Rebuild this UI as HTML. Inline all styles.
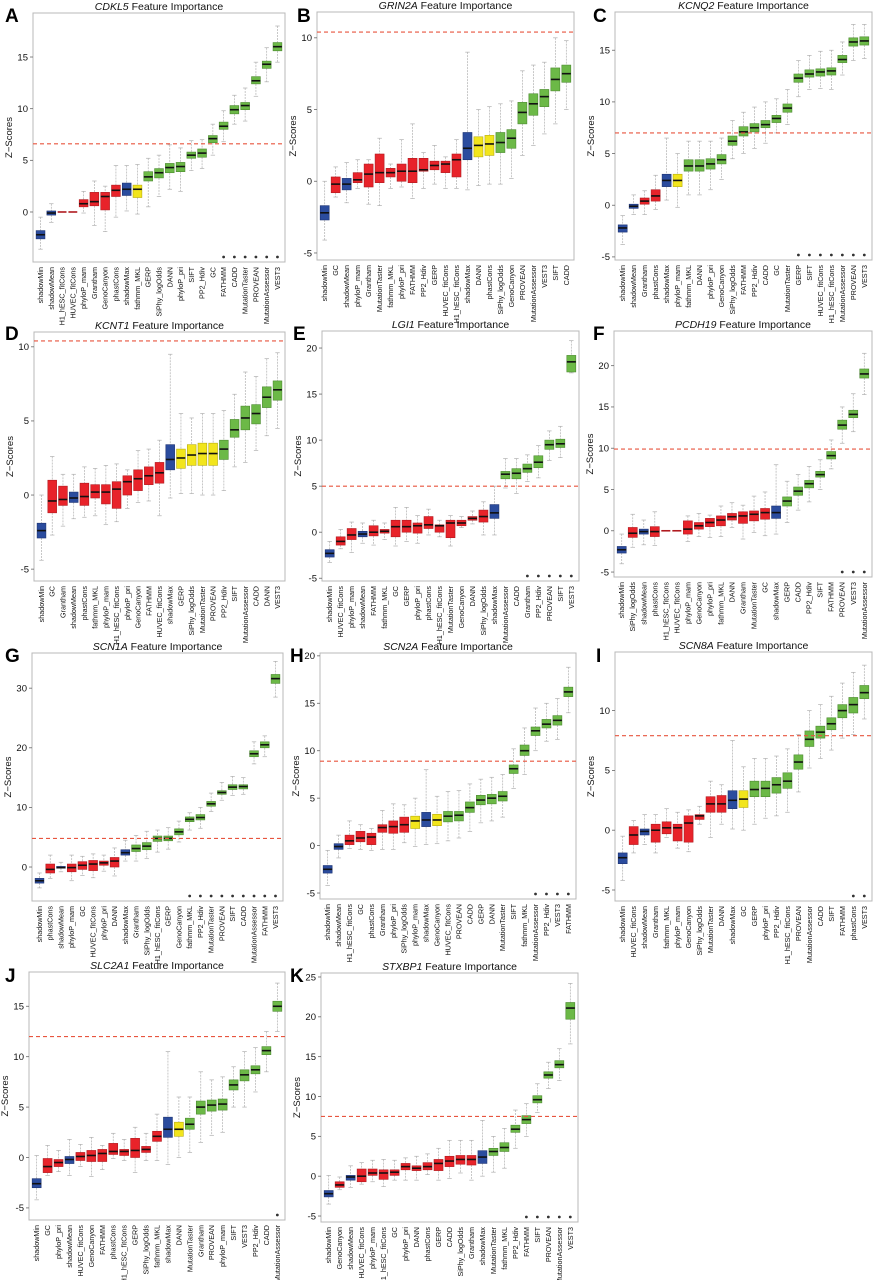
<!DOCTYPE html>
<html><head><meta charset="utf-8"><style>
html,body{margin:0;padding:0;background:#fff;}
svg{display:block;font-family:"Liberation Sans",Arial,sans-serif;}
</style></head><body>
<svg id="fig" width="875" height="1280" viewBox="0 0 875 1280" xmlns="http://www.w3.org/2000/svg"></svg>
<script>
// ---- Panel data (median, q1, q3, whisker low, whisker high), colors: B blue, R red, Y yellow, G green ----
const A_names=["shadowMin","shadowMean","H1_hESC_fitCons","HUVEC_fitCons","phyloP_mam","Grantham","GenoCanyon","phastCons","shadowMax","fathmm_MKL","GERP","SiPhy_logOdds","DANN","phyloP_pri","SIFT","PP2_Hdiv","GC","FATHMM","CADD","MutationTaster","PROVEAN","MutationAssessor","VEST3"];
const A_col="BBRRRRRRBYGGGGGGGGGGGGG";
const A_med=[-2.2,-0.1,0,0,0.8,1.0,1.5,2.1,2.2,2.2,3.4,3.8,4.3,4.4,5.5,5.7,7.1,8.3,9.9,10.3,12.7,14.3,16.0];
const A_q1=[-2.6,-0.3,0,0,0.5,0.6,0.2,1.5,1.6,1.4,3.0,3.3,3.8,3.9,5.2,5.3,6.7,8.0,9.5,9.9,12.4,13.9,15.6];
const A_q3=[-1.8,0.1,0,0,1.2,1.9,1.9,2.6,2.8,2.6,3.9,4.2,4.7,4.8,5.8,6.1,7.4,8.7,10.3,10.6,13.1,14.6,16.4];
const A_lo=[-3.6,-1,0,0,-0.1,-1.3,-1.9,-0.5,0.1,-0.2,0.5,1.5,2.2,2.0,4.0,4.2,5.5,6.8,8.5,8.8,11.2,12.6,14.5];
const A_hi=[-0.5,0.8,0,0,2,3,2.5,4.5,4.5,4.6,5.2,5.5,6.5,6.2,6.9,7.0,8.5,9.8,11.3,12,14.5,15.9,18];

const B_names=["shadowMin","GC","shadowMean","phyloP_mam","Grantham","MutationTaster","fathmm_MKL","phyloP_pri","FATHMM","PP2_Hdiv","GERP","HUVEC_fitCons","H1_hESC_fitCons","shadowMax","DANN","phastCons","SiPhy_logOdds","GenoCanyon","PROVEAN","MutationAssessor","VEST3","SIFT","CADD"];
const B_col="BRBRRRRRRRRRRBYYGGGGGGG";
const B_med=[-2.2,-0.2,-0.2,0.1,0.5,0.6,0.6,0.7,0.7,0.8,1.1,1.2,1.5,2.3,2.5,2.6,2.7,3.0,4.8,5.4,5.9,7.1,7.5];
const B_q1=[-2.7,-0.8,-0.6,-0.1,-0.4,-0.1,0.3,0,-0.1,0.7,0.8,0.6,0.3,1.5,1.7,1.8,2.0,2.3,4.0,4.6,5.2,6.3,6.9];
const B_q3=[-1.7,0.3,0.2,0.6,1.2,1.9,0.9,1.2,1.6,1.6,1.4,1.4,1.9,3.4,3.1,3.2,3.4,3.6,5.5,6.1,6.4,7.9,8.1];
const B_lo=[-4.1,-1.1,-1.5,-0.5,-1.6,-1.7,-0.5,-0.4,-1.2,-0.5,-0.2,-0.5,-0.5,-0.6,-0.3,-0.2,-0.2,0.2,1.8,2.5,3.3,4.0,5.0];
const B_hi=[0,1,1.3,1.5,1.5,3,1.2,2.9,4,2,2.5,1.7,2.9,9,5,5.2,5.4,5.6,7.7,8.1,8.3,10,9.8];

const C_names=["shadowMin","shadowMean","Grantham","phastCons","shadowMax","phyloP_mam","fathmm_MKL","DANN","phyloP_pri","GenoCanyon","SiPhy_logOdds","FATHMM","PP2_Hdiv","CADD","GC","MutationTaster","GERP","SIFT","HUVEC_fitCons","H1_hESC_fitCons","MutationAssessor","PROVEAN","VEST3"];
const C_col="BBRRBYGGGGGGGGGGGGGGGGG";
const C_med=[-2.2,-0.1,0.4,0.9,2.4,2.4,3.8,3.8,4.0,4.4,6.2,7.1,7.5,7.8,8.4,9.4,12.3,12.7,12.9,13.0,14.1,15.8,15.9];
const C_q1=[-2.6,-0.3,0.1,0.4,1.8,1.8,3.3,3.3,3.5,4.0,5.8,6.7,7.1,7.5,8.0,9.0,11.9,12.4,12.5,12.6,13.8,15.4,15.5];
const C_q3=[-1.9,0.1,0.7,1.5,3.0,3.0,4.4,4.4,4.5,4.9,6.7,7.6,7.9,8.2,8.7,9.8,12.7,13.1,13.2,13.3,14.5,16.2,16.3];
const C_lo=[-3.8,-0.9,-0.9,-0.4,0.5,-0.2,1,1,1.5,2.5,4.5,5,5.5,6,7,7.8,10.5,11.2,11.3,11.2,12.6,14,14.2];
const C_hi=[-1,1,1.4,2.9,6.5,5,6.2,6.2,6.2,6.5,8.2,9,9.5,10,10.3,11.2,14,14.5,14.9,15,15.8,17.5,17.5];

const D_names=["shadowMin","GC","Grantham","shadowMean","phastCons","fathmm_MKL","phyloP_mam","H1_hESC_fitCons","phyloP_pri","GenoCanyon","FATHMM","HUVEC_fitCons","shadowMax","GERP","SiPhy_logOdds","MutationTaster","PROVEAN","PP2_Hdiv","SIFT","MutationAssessor","CADD","DANN","VEST3"];
const D_col="BRRBRRRRRRRRBYYYYGGGGGG";
const D_med=[-2.4,-0.4,-0.3,-0.2,-0.1,0.2,0.2,0.4,0.9,1.1,1.3,1.5,2.4,2.5,2.7,2.8,2.8,3.1,4.4,5.2,5.5,6.6,7.1];
const D_q1=[-2.9,-1.2,-0.7,-0.5,-0.7,-0.2,-0.6,-0.9,0,0.3,0.7,0.8,1.7,1.8,2.0,2.0,2.0,2.4,3.9,4.4,4.8,5.9,6.4];
const D_q3=[-1.9,1.0,0.6,0.2,0.8,0.7,0.7,0.9,1.3,1.7,1.9,2.2,3.4,3.1,3.4,3.5,3.5,3.7,5.1,6.0,6.1,7.3,7.7];
const D_lo=[-4.4,-2.7,-2.1,-1.6,-1.5,-1.4,-2,-1.8,-0.9,-0.5,-0.4,-1.4,-0.2,0.1,0.1,0,0,0.3,1.9,2.2,3,4,4.5];
const D_hi=[0,2.6,1.4,1.4,1.9,1.8,2,2.1,1.7,3,3.1,3.7,9.5,5.5,5.2,5.5,5.5,5.7,6.8,8.3,8,9.2,9.6];

const E_names=["shadowMin","HUVEC_fitCons","phyloP_mam","shadowMean","FATHMM","fathmm_MKL","GC","GERP","phyloP_pri","phastCons","H1_hESC_fitCons","MutationTaster","GenoCanyon","DANN","SiPhy_logOdds","shadowMax","MutationAssessor","CADD","Grantham","PP2_Hdiv","PROVEAN","SIFT","VEST3"];
const E_col="BRRBRRRRRRRRRRRBGGGGGGG";
const E_med=[-2.3,-1,-0.3,-0.2,0,0.1,0.6,0.6,0.7,0.8,0.7,1,1,1.5,1.7,2.1,6.3,6.4,6.9,7.6,9.5,9.6,18.5];
const E_q1=[-2.7,-1.4,-0.8,-0.5,-0.4,-0.1,-0.5,0,-0.1,0.4,0,-0.6,0.7,1.3,1.1,1.5,5.8,5.8,6.5,7,9,9.2,17.4];
const E_q3=[-1.9,-0.5,0.4,0.1,0.7,0.3,1.3,1.3,1,1.7,0.8,1.3,1.3,1.7,2.4,3,6.6,6.9,7.4,8.3,10,10.1,19.2];
const E_lo=[-3.3,-1.8,-2.2,-1.2,-1.4,-0.8,-1.5,-1,-1.2,-0.3,-0.5,-1.5,0.5,0.9,-0.3,-0.3,4.8,4.2,5.5,5.9,7.8,8.1,17.3];
const E_hi=[-1,0.3,1.1,1,1.3,1,2.7,2.7,1.8,2.5,1.3,1.8,1.7,2.3,3.3,5,8,8,8.4,9.4,11,11.5,20.8];

const F_names=["shadowMin","SiPhy_logOdds","shadowMean","phastCons","H1_hESC_fitCons","HUVEC_fitCons","phyloP_mam","GenoCanyon","phyloP_pri","fathmm_MKL","DANN","Grantham","MutationTaster","GC","shadowMax","GERP","CADD","PP2_Hdiv","SIFT","FATHMM","PROVEAN","VEST3","MutationAssessor"];
const F_col="BRBRRRRRRRRRRRBGGGGGGGG";
const F_med=[-2.3,-0.3,-0.1,-0.1,0,0,0.2,0.6,1,1.3,1.7,1.8,2,2.2,2.2,3.6,4.8,5.7,6.8,9.1,12.8,14.1,19];
const F_q1=[-2.7,-0.8,-0.4,-0.7,0,0,-0.4,0.2,0.5,0.6,1.3,0.9,1.2,1.4,1.5,3,4.3,5.2,6.5,8.7,12.3,13.7,18.5];
const F_q3=[-1.9,0.4,0.2,0.5,0,0,1.2,1,1.5,1.8,2.1,2.3,2.4,2.7,3,4.1,5.3,6.1,7.2,9.6,13.4,14.6,19.6];
const F_lo=[-4,-2,-1.7,-1.8,0,0,-1.3,-0.7,-0.8,-0.7,0.4,-1,-0.2,-0.6,-0.4,1,2.5,3.5,5,7.5,10.6,12,16.5];
const F_hi=[-0.4,2,1.3,2.3,0,0,1.8,2.1,1.9,3,3.4,3.1,4.2,4.7,8,6,6.8,7.8,8.6,11,15,16.6,21.5];

const G_names=["shadowMin","phastCons","shadowMean","phyloP_mam","GC","HUVEC_fitCons","phyloP_pri","DANN","shadowMax","Grantham","SiPhy_logOdds","H1_hESC_fitCons","GERP","GenoCanyon","fathmm_MKL","PP2_Hdiv","MutationTaster","PROVEAN","SIFT","CADD","MutationAssessor","FATHMM","VEST3"];
const G_col="BRBRRRRRBGGGGGGGGGGGGGG";
const G_med=[-2.3,-0.4,-0.1,-0.1,0.3,0.5,0.7,1,2.4,3.1,3.5,4.8,4.8,5.9,8,8.3,10.6,12.5,13.4,13.5,19,20.5,31.6];
const G_q1=[-2.7,-1,-0.2,-0.8,-0.4,-0.6,0.3,0,2,2.6,2.9,4.3,4.4,5.4,7.6,7.9,10.2,12.2,13,13.1,18.5,20,30.8];
const G_q3=[-1.9,0.5,0.1,0.5,0.9,1.1,1,1.6,2.9,3.7,4.1,5.2,5.2,6.4,8.4,8.8,11,12.8,13.8,13.8,19.5,21,32.3];
const G_lo=[-3.5,-1.9,-0.8,-2.3,-1.4,-1.8,-0.7,-1.5,1,1,1.4,2.5,3,4.2,6.2,6.5,9.3,11.2,12,12.2,17.3,18.5,28.5];
const G_hi=[-1,2,0.8,2,1.8,2.2,2,3.2,4.5,5.3,6,6.2,6.6,7.7,9.1,10,12.4,14.2,15.2,15,21,22,34.5];

const H_names=["shadowMin","shadowMean","H1_hESC_fitCons","GC","phastCons","Grantham","phyloP_pri","SiPhy_logOdds","phyloP_mam","shadowMax","GenoCanyon","HUVEC_fitCons","PROVEAN","CADD","GERP","DANN","MutationTaster","SIFT","fathmm_MKL","MutationAssessor","PP2_Hdiv","VEST3","FATHMM"];
const H_col="BBRRRRRRYBYGGGGGGGGGGGG";
const H_med=[-2.5,-0.1,0.5,0.8,0.9,1.9,2,2.2,2.6,2.7,2.7,3.1,3.2,4,4.8,5,5.2,8.1,10,12.1,12.8,13.2,16.2];
const H_q1=[-2.9,-0.4,0.1,0.4,0.1,1.4,1.3,1.4,1.8,2,2.1,2.5,2.6,3.5,4.3,4.4,4.7,7.6,9.5,11.6,12.4,12.7,15.7];
const H_q3=[-2.1,0.2,1.1,1.5,1.3,2.2,2.6,3,3.1,3.5,3.3,3.6,3.6,4.6,5.3,5.4,5.7,8.5,10.6,12.5,13.3,13.7,16.7];
const H_lo=[-4.2,-1.3,-0.3,-0.4,-0.5,-0.4,-0.4,0.3,-0.1,0.1,0.2,0.5,0.8,1.5,2.4,2.6,3,6,7.5,10,11,11.2,14];
const H_hi=[-0.5,1.1,2.6,2.2,1.8,3.7,4.4,4.3,5,8,5.2,5.7,5.8,6.5,7,7.2,7.5,10.2,12.4,14.5,15,15.5,18.8];

const I_names=["shadowMin","HUVEC_fitCons","shadowMean","Grantham","fathmm_MKL","phyloP_mam","GenoCanyon","SiPhy_logOdds","MutationTaster","DANN","shadowMax","GC","GERP","phyloP_pri","PP2_Hdiv","H1_hESC_fitCons","PROVEAN","MutationAssessor","CADD","SIFT","FATHMM","phastCons","VEST3"];
const I_col="BRBRRRRRRRBYGGGGGGGGGGG";
const I_med=[-2.3,-0.4,-0.1,0,0.2,0.2,0.6,1.2,2.2,2.2,2.5,2.6,3.4,3.5,3.8,4.1,5.7,7.6,8.2,8.9,10,10.5,11.5];
const I_q1=[-2.8,-1.2,-0.4,-1,-0.3,-0.9,-1,0.9,1.5,1.5,1.8,1.9,2.8,2.8,3.1,3.5,5.1,7,7.7,8.4,9.4,9.8,11];
const I_q3=[-1.9,0.3,0.1,0.5,0.7,0.5,1.2,1.3,2.8,2.9,3.3,3.3,4.1,4.1,4.4,4.8,6.3,8.3,8.7,9.4,10.5,11.1,12.1];
const I_lo=[-4.2,-1.9,-1.2,-1.9,-0.6,-1.5,-1.8,0.5,-0.6,0.5,0.1,0,0.5,1,1.2,1.5,3.2,5.2,6,6.7,7.7,8,9.3];
const I_hi=[-0.5,0.8,1.3,1.3,1.8,1.5,1.7,2,4.1,3.8,7.5,5.3,6,6,6.2,6.8,8,10,10.5,11.2,12.3,13.2,13.8];

const J_names=["shadowMin","GC","phyloP_pri","shadowMean","HUVEC_fitCons","GenoCanyon","FATHMM","phastCons","H1_hESC_fitCons","GERP","SiPhy_logOdds","fathmm_MKL","shadowMax","DANN","MutationTaster","Grantham","PROVEAN","phyloP_mam","SIFT","VEST3","PP2_Hdiv","CADD","MutationAssessor"];
const J_col="BRRBRRRRRRRRBYGGGGGGGGG";
const J_med=[-2.6,-0.9,-0.5,-0.2,0.1,0.2,0.4,0.6,0.6,0.7,0.8,2.1,2.8,2.8,3.3,5,5.2,5.3,7.2,8.2,8.7,10.6,15];
const J_q1=[-3,-1.5,-0.9,-0.6,-0.3,-0.4,-0.4,0.3,0.2,0,0.5,1.6,2,2.1,2.8,4.3,4.6,4.7,6.7,7.6,8.3,10.2,14.5];
const J_q3=[-2.1,-0.1,-0.2,0.1,0.5,0.7,0.8,1.4,0.8,1.9,1.1,2.6,4,3.5,3.9,5.6,5.7,5.8,7.7,8.7,9.1,11,15.5];
const J_lo=[-4.2,-1.8,-1.4,-1.8,-0.9,-1.9,-1.2,-0.1,-0.3,-1.5,-0.3,-0.3,-0.7,0,0.5,1.5,2.2,2.5,5,5,6.5,8.5,12.5];
const J_hi=[0.2,1.2,0.7,1.8,1.3,2,1.2,2.4,1.8,3,2.4,4.3,10.5,6,6,8.5,7.7,8,9,10.5,10.9,12.5,17.3];

const K_names=["shadowMin","GenoCanyon","shadowMean","HUVEC_fitCons","phyloP_mam","H1_hESC_fitCons","GC","phyloP_pri","DANN","phastCons","GERP","CADD","SiPhy_logOdds","Grantham","shadowMax","MutationTaster","fathmm_MKL","PP2_Hdiv","FATHMM","SIFT","PROVEAN","MutationAssessor","VEST3"];
const K_col="BRBRRRRRRRRRRRBGGGGGGGG";
const K_med=[-2.2,-1.1,-0.1,0,0.4,0.4,0.5,1.2,1,1.2,1.6,1.9,2.1,2.1,2.4,3.1,3.6,5.9,7.1,9.6,12.7,14,21.1];
const K_q1=[-2.6,-1.4,-0.5,-0.7,0.1,-0.4,0.1,0.8,0.7,0.8,0.7,1.2,1.5,1.4,1.6,2.6,3.1,5.5,6.6,9.2,12.3,13.6,19.7];
const K_q3=[-1.8,-0.7,0.1,0.9,0.9,0.8,0.8,1.6,1.3,1.7,2.1,2.5,2.6,2.6,3.2,3.5,4.2,6.4,7.6,10.1,13.1,14.5,21.8];
const K_lo=[-3.5,-1.7,-1.4,-1,-0.7,-1.3,-0.5,-0.5,-0.5,0.2,-0.5,-0.3,0.4,-0.5,0,0.5,1,3.5,5,8,11,12,16.6];
const K_hi=[0.1,-0.1,1.3,1.7,2,2.1,2,2.3,2.5,2.8,3.5,4.5,4.5,4.5,7,5,6,8.3,9.1,11.6,14.3,16,24.2];

const genes=["CDKL5","GRIN2A","KCNQ2","KCNT1","LGI1","PCDH19","SCN1A","SCN2A","SCN8A","SLC2A1","STXBP1"];
const thresholds=[6.6,10.4,7.0,10.4,5.0,9.9,4.8,8.9,7.9,12.0,7.5];
const starCounts=[6,0,7,0,5,3,9,4,2,1,5];
const tickSets=[[0,5,10,15],[-5,0,5,10],[-5,0,5,10,15],[-5,0,5,10],[-5,0,5,10,15,20],[-5,0,5,10,15,20],[0,10,20,30],[-5,0,5,10,15,20],[-5,0,5,10],[-5,0,5,10,15],[-5,0,5,10,15,20,25]];
const yMins=[-4.84,-5.49,-5.3,-5.8,-5.3,-5.6,-5.7,-5.63,-5.92,-6.2,-5.75];
const yMaxs=[19.26,11.8,18.7,11.0,21.85,24.2,35.9,20.3,14.9,18.4,25.5];

// layout (not data)
const rects=[[33,13,285,262],[317,12,574,260],[615,12,872,260],[34,332,285,581],[322,331,579,581],[614,331,872,577],[32,653,283,901],[320,653,576,899],[615,652,872,901],[29,972,285,1220],[321,973,578,1222]];
const letterPos=[[5,22],[297,22],[593,22],[5,340],[293,340],[593,340],[5,662],[290,662],[596,662],[5,982],[290,982]];
const letters="ABCDEFGHIJK";
const panelData=[[A_names,A_col,A_med,A_q1,A_q3,A_lo,A_hi],[B_names,B_col,B_med,B_q1,B_q3,B_lo,B_hi],[C_names,C_col,C_med,C_q1,C_q3,C_lo,C_hi],[D_names,D_col,D_med,D_q1,D_q3,D_lo,D_hi],[E_names,E_col,E_med,E_q1,E_q3,E_lo,E_hi],[F_names,F_col,F_med,F_q1,F_q3,F_lo,F_hi],[G_names,G_col,G_med,G_q1,G_q3,G_lo,G_hi],[H_names,H_col,H_med,H_q1,H_q3,H_lo,H_hi],[I_names,I_col,I_med,I_q1,I_q3,I_lo,I_hi],[J_names,J_col,J_med,J_q1,J_q3,J_lo,J_hi],[K_names,K_col,K_med,K_q1,K_q3,K_lo,K_hi]];
const fills={B:"#2b4c9e",R:"#e8232a",Y:"#f2e51c",G:"#6cb947"};
const strokes={B:"#1d3372",R:"#b01a1f",Y:"#b8ad10",G:"#4c8a30"};

const NS="http://www.w3.org/2000/svg";
const svg=document.getElementById('fig');
function mk(tag,attrs,parent){const e=document.createElementNS(NS,tag);for(const k in attrs)e.setAttribute(k,attrs[k]);(parent||svg).appendChild(e);return e;}

for(let p=0;p<11;p++){
  const [x0,y0,x1,y1]=rects[p];
  const [names,col,med,q1,q3,lo,hi]=panelData[p];
  const n=names.length;
  const ymin=yMins[p],ymax=yMaxs[p];
  const Y=v=>y1-(v-ymin)/(ymax-ymin)*(y1-y0);
  const step=(x1-x0)/(n+0.4);
  const X=i=>x0+(i+0.7)*step;
  const g=mk('g',{});
  
  

  const frame=mk('rect',{x:x0,y:y0,width:x1-x0,height:y1-y0,fill:'#fff',stroke:'#b8b8b8','stroke-width':1},g);
  
  

  const lt=mk('text',{x:letterPos[p][0],y:letterPos[p][1],'font-size':19,'font-weight':'bold',fill:'#000'},g);
  lt.textContent=letters[p];
  
  

  const tt=mk('text',{x:(x0+x1)/2,y:y0-3,'font-size':10.5,'text-anchor':'middle',fill:'#111'},g);
  
  
  const ts=mk('tspan',{'font-style':'italic'},tt); ts.textContent=genes[p];
  const ts2=mk('tspan',{},tt); ts2.textContent=' Feature Importance';

  const yl=mk('text',{x:0,y:0,'font-size':9.5,'text-anchor':'middle',fill:'#111',transform:`translate(${x0-21},${(y0+y1)/2}) rotate(-90)`},g);
  yl.textContent='Z\u2212Scores';
  
  

  tickSets[p].forEach(t=>{
    const ty=Y(t);
    mk('line',{x1:x0-3,x2:x0,y1:ty,y2:ty,stroke:'#666','stroke-width':0.8},g);
    const tl=mk('text',{x:x0-5,y:ty+3.3,'font-size':9.5,'text-anchor':'end',fill:'#111'},g);
    tl.textContent=String(t);
    
    
  });

  for(let i=0;i<n;i++){
    const cx=X(i),bw=step*0.82;
    const c=col[i];
    const bg=mk('g',{},g);
    
    
    mk('line',{x1:cx,x2:cx,y1:Y(hi[i]),y2:Y(q3[i]),stroke:'#b0b0b0','stroke-width':0.7,'stroke-dasharray':'2,1'},bg);
    mk('line',{x1:cx,x2:cx,y1:Y(q1[i]),y2:Y(lo[i]),stroke:'#b0b0b0','stroke-width':0.7,'stroke-dasharray':'2,1'},bg);
    mk('line',{x1:cx-bw*0.25,x2:cx+bw*0.25,y1:Y(hi[i]),y2:Y(hi[i]),stroke:'#b0b0b0','stroke-width':0.7},bg);
    mk('line',{x1:cx-bw*0.25,x2:cx+bw*0.25,y1:Y(lo[i]),y2:Y(lo[i]),stroke:'#b0b0b0','stroke-width':0.7},bg);
    const h=Math.max(Y(q1[i])-Y(q3[i]),0.01);
    if(h>0.5) mk('rect',{x:cx-bw/2,y:Y(q3[i]),width:bw,height:h,fill:fills[c],stroke:strokes[c],'stroke-width':0.6},bg);
    mk('line',{x1:cx-bw/2,x2:cx+bw/2,y1:Y(med[i]),y2:Y(med[i]),stroke:h>0.5?'#111':strokes[c],'stroke-width':1.6},bg);
    const xl=mk('text',{x:0,y:0,'font-size':7.2,'text-anchor':'end',fill:'#111',transform:`translate(${cx+2.5},${y1+5}) rotate(-90)`},g);
    xl.textContent=names[i];
    
    
    if(i>=n-starCounts[p]){
      const st=mk('circle',{cx:cx,cy:y1-5,r:1.4,fill:'#333'},g);
      
      
    }
  }

  const th=mk('line',{x1:x0,x2:x1,y1:Y(thresholds[p]),y2:Y(thresholds[p]),stroke:'#e8553f','stroke-width':1.1,'stroke-dasharray':'4,3'},g);
  
  
}
</script>
</body></html>
